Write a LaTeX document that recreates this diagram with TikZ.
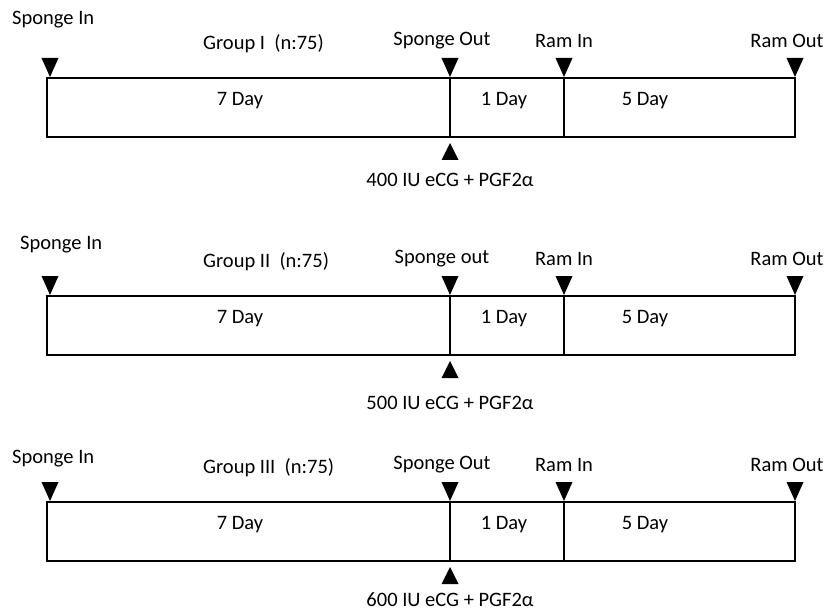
\documentclass[tikz,border=0pt]{standalone}
\usepackage{fontspec}
\setmainfont{Carlito}
\tikzset{
    lbl/.style={font=\fontsize{20.5}{24}\selectfont, inner sep=0pt},
    daybox/.style={draw=black, line width=2.4pt},
    mdown/.pic={\fill (-8.5,-19) -- (8.5,-19) -- (0,0) -- cycle;},
    mup/.pic={\fill (-8.5,17) -- (8.5,17) -- (0,0) -- cycle;}
}

\begin{document}
\begin{tikzpicture}[x=1pt, y=-1pt]
    \useasboundingbox (0,0) rectangle (824,612);
    \foreach \yt/\sy/\sx/\dy/\gnum/\dose/\outw [count=\i] in
      {78/20/12/102/I/400/Out, 296/245/20/107/II/500/out, 502/459/12/98/III/600/Out}{
      % time line
      \coordinate (start\i) at (47,\yt);
      \coordinate (spout\i) at (450,\yt);
      \coordinate (ramin\i) at (564,\yt);
      \coordinate (ramout\i) at (795,\yt);
      \draw[daybox] (start\i) rectangle (795,\yt+59);
      \draw[daybox] (spout\i) -- ++(0,59);
      \draw[daybox] (ramin\i) -- ++(0,59);
      % markers
      \pic at (50,\yt-1) {mdown};
      \pic at (450,\yt-1) {mdown};
      \pic at (564,\yt-1) {mdown};
      \pic at (795,\yt-1) {mdown};
      \pic at (450,\yt+65) {mup};
      % labels
      \node[lbl, anchor=west] (sin\i) at (\sx,\sy) {Sponge In};
      \node[lbl, anchor=west] (grp\i) at (203,\yt-34) {Group \gnum\ \ (n:75)};
      \node[lbl] (sout\i) at (442,\yt-37) {Sponge \outw};
      \node[lbl] (rin\i) at (564,\yt-37) {Ram In};
      \node[lbl] (rout\i) at (787,\yt-37) {Ram Out};
      \node[lbl] (dseven\i) at (240,\yt+23) {7 Day};
      \node[lbl] (done\i) at (504,\yt+23) {1 Day};
      \node[lbl] (dfive\i) at (645,\yt+23) {5 Day};
      \node[lbl] (dose\i) at (450,\yt+\dy) {\dose\ IU eCG + PGF2α};
    }
\end{tikzpicture}
\end{document}
